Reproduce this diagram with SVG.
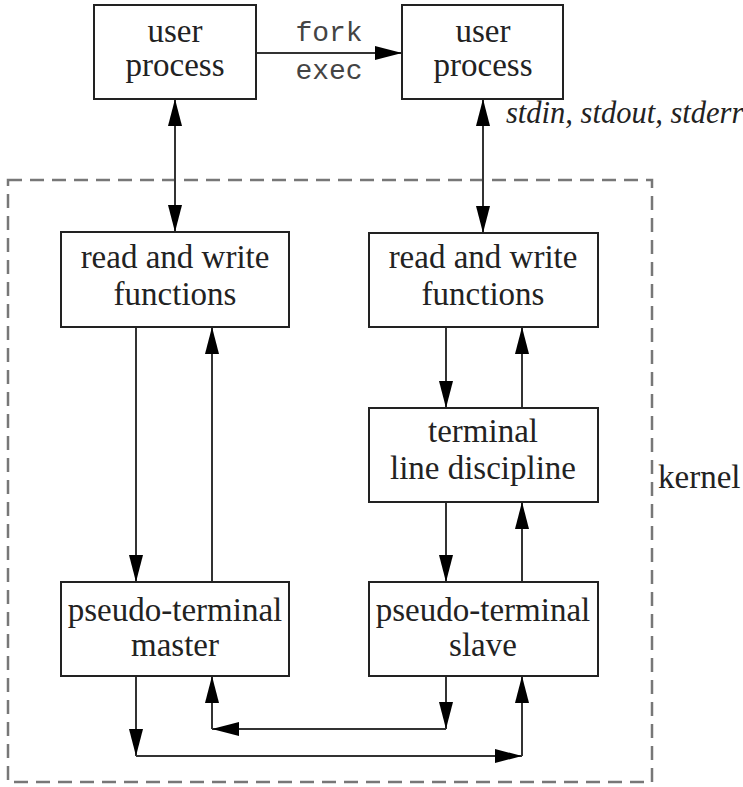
<svg xmlns="http://www.w3.org/2000/svg" width="743" height="787" viewBox="0 0 743 787">
<style>
.box{fill:#fff;stroke:#222;stroke-width:2}
.t{font-family:"Liberation Serif","Times New Roman",serif;font-size:33px;fill:#222;text-anchor:middle}
.m{font-family:"Liberation Mono","Courier New",monospace;font-size:28px;fill:#444;text-anchor:middle}
.it{font-family:"Liberation Serif","Times New Roman",serif;font-size:30.5px;font-style:italic;fill:#222}
.c{fill:none;stroke:#333;stroke-width:2}
.dash{fill:none;stroke:#777;stroke-width:2.5;stroke-dasharray:14 8}
</style>
<defs>
<marker id="ah" markerUnits="userSpaceOnUse" markerWidth="28" markerHeight="16" refX="27" refY="7" orient="auto-start-reverse" viewBox="0 0 28 14">
<path d="M0,0 L27,7 L0,14 Z" fill="#000"/>
</marker>
</defs>
<rect class="dash" x="8" y="180" width="644" height="602"/>
<text class="t" x="658" y="488" style="text-anchor:start">kernel</text>
<g id="connectors">
<line class="c" x1="256" y1="53" x2="402" y2="53" marker-end="url(#ah)"/>
<text class="m" x="329" y="41">fork</text>
<text class="m" x="329" y="79">exec</text>
<line class="c" x1="175" y1="99" x2="175" y2="232" marker-start="url(#ah)" marker-end="url(#ah)"/>
<line class="c" x1="483" y1="99" x2="483" y2="233" marker-start="url(#ah)" marker-end="url(#ah)"/>
<text class="it" x="506" y="123">stdin, stdout, stderr</text>
<line class="c" x1="136" y1="327" x2="136" y2="582" marker-end="url(#ah)"/>
<line class="c" x1="212" y1="582" x2="212" y2="327" marker-end="url(#ah)"/>
<line class="c" x1="446" y1="327" x2="446" y2="408" marker-end="url(#ah)"/>
<line class="c" x1="522" y1="408" x2="522" y2="327" marker-end="url(#ah)"/>
<line class="c" x1="446" y1="502" x2="446" y2="582" marker-end="url(#ah)"/>
<line class="c" x1="522" y1="582" x2="522" y2="502" marker-end="url(#ah)"/>
<line class="c" x1="446" y1="676" x2="446" y2="729" marker-end="url(#ah)"/>
<line class="c" x1="446" y1="729" x2="212" y2="729" marker-end="url(#ah)"/>
<line class="c" x1="212" y1="729" x2="212" y2="676" marker-end="url(#ah)"/>
<line class="c" x1="136" y1="676" x2="136" y2="756" marker-end="url(#ah)"/>
<line class="c" x1="136" y1="756" x2="522" y2="756" marker-end="url(#ah)"/>
<line class="c" x1="522" y1="756" x2="522" y2="676" marker-end="url(#ah)"/>
</g>
<g id="user1">
<rect class="box" x="94" y="5" width="162" height="94"/>
<text class="t" x="175" y="42">user</text>
<text class="t" x="175" y="76">process</text>
</g>
<g id="user2">
<rect class="box" x="402" y="5" width="161" height="94"/>
<text class="t" x="483" y="42">user</text>
<text class="t" x="483" y="76">process</text>
</g>
<g id="rw1">
<rect class="box" x="61" y="232" width="228" height="95"/>
<text class="t" x="175" y="268">read and write</text>
<text class="t" x="175" y="305">functions</text>
</g>
<g id="rw2">
<rect class="box" x="369" y="233" width="229" height="94"/>
<text class="t" x="483" y="268">read and write</text>
<text class="t" x="483" y="305">functions</text>
</g>
<g id="tld">
<rect class="box" x="369" y="408" width="229" height="94"/>
<text class="t" x="483" y="442">terminal</text>
<text class="t" x="483" y="479">line discipline</text>
</g>
<g id="master">
<rect class="box" x="61" y="582" width="228" height="94"/>
<text class="t" x="175" y="621">pseudo-terminal</text>
<text class="t" x="175" y="656">master</text>
</g>
<g id="slave">
<rect class="box" x="369" y="582" width="229" height="94"/>
<text class="t" x="483" y="621">pseudo-terminal</text>
<text class="t" x="483" y="656">slave</text>
</g>
</svg>
